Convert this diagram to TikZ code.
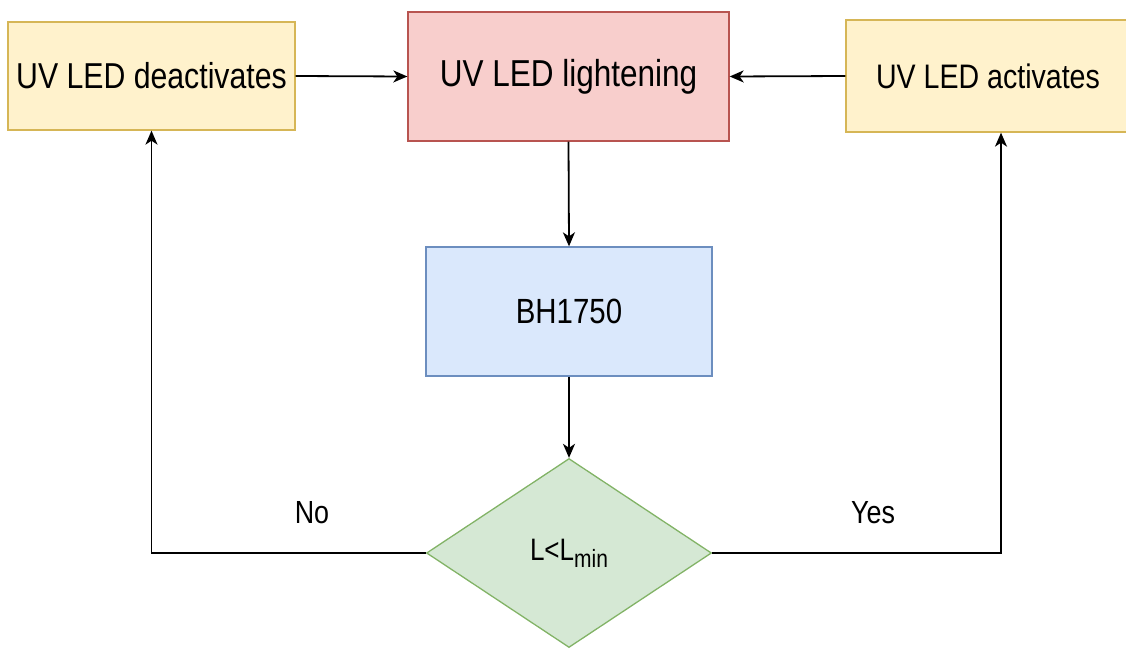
\documentclass[tikz,border=0pt]{standalone}
\usepackage{fontspec}
\usepackage{graphicx}
\setmainfont{Liberation Sans}
\usetikzlibrary{shapes.geometric,arrows.meta}
\definecolor{yelfill}{HTML}{FFF2CC}
\definecolor{yeldraw}{HTML}{D6B656}
\definecolor{redfill}{HTML}{F8CECC}
\definecolor{reddraw}{HTML}{B85450}
\definecolor{blufill}{HTML}{DAE8FC}
\definecolor{bludraw}{HTML}{6C8EBF}
\definecolor{grnfill}{HTML}{D5E8D4}
\definecolor{grndraw}{HTML}{82B366}
\newcommand{\sqz}[1]{\scalebox{0.84}[1]{#1}}
\tikzset{
  box/.style={rectangle, line width=1.3pt, inner sep=0pt},
  yelbox/.style={box, fill=yelfill, draw=yeldraw},
  conn/.style={line width=1.8pt, -{Stealth[length=14pt,width=12pt,inset=4pt]}},
  lbl/.style={inner sep=0pt, font=\fontsize{32}{36}\selectfont}
}
\begin{document}
\begin{tikzpicture}[x=1pt,y=-1pt]
\useasboundingbox (0,0) rectangle (1126,648);
\node[yelbox, minimum width=287pt, minimum height=108pt,
  font=\fontsize{36}{40}\selectfont] (deact) at (151.5,76) {\sqz{UV LED deactivates}};
\node[box, fill=redfill, draw=reddraw, minimum width=321pt, minimum height=129pt,
  font=\fontsize{37.5}{42}\selectfont] (light) at (568.5,76.5) {\sqz{UV LED lightening}};
\node[yelbox, minimum width=284pt, minimum height=112pt,
  font=\fontsize{34}{39}\selectfont] (act) at (988,76) {\sqz{UV LED activates}};
\node[box, fill=blufill, draw=bludraw, minimum width=286pt, minimum height=129pt,
  font=\fontsize{35}{40}\selectfont] (bh) at (569,311.5) {\sqz{BH1750}};
\node[diamond, fill=grnfill, draw=grndraw, line width=1.3pt, inner sep=0pt,
  minimum width=285pt, minimum height=189pt,
  font=\fontsize{31}{36}\selectfont] (dia) at (569,553)
  {\sqz{L<L\raisebox{-7pt}{\fontsize{25}{28}\selectfont min}}};
\node[lbl] (no) at (312,513) {\sqz{No}};
\node[lbl] (yes) at (873,513) {\sqz{Yes}};
\draw[conn] (deact.east) -- (light.west);
\draw[conn] (act.west) -- (light.east);
\draw[conn] (light.south) -- (bh.north);
\draw[conn] (bh.south) -- (dia.north);
\draw[conn] (dia.west) -| (deact.south);
\draw[conn] (dia.east) -| ([xshift=13pt]act.south);
\end{tikzpicture}
\end{document}
